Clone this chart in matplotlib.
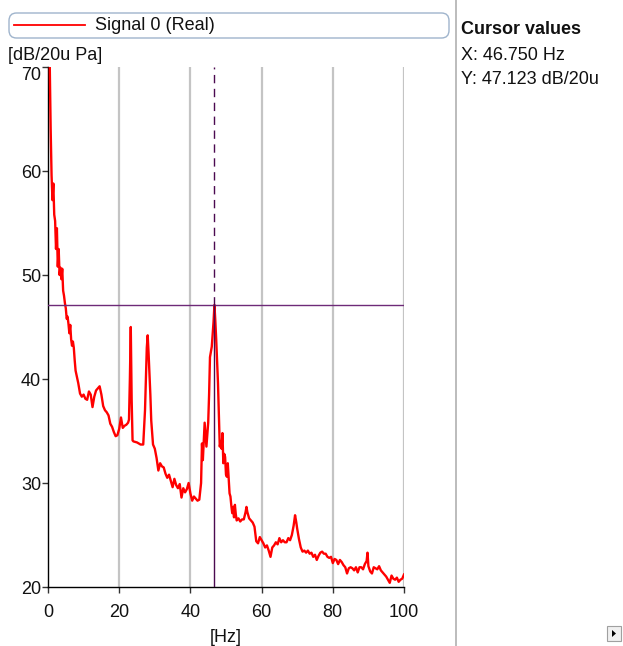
import numpy as np
import matplotlib
matplotlib.use('Agg')
import matplotlib.pyplot as plt
from matplotlib.patches import FancyBboxPatch, Rectangle, Polygon
from matplotlib.lines import Line2D

plt.rcParams['font.family'] = ['Liberation Sans', 'DejaVu Sans']

# spectrum (Hz, dB/20u Pa)
freq = [0.0, 0.25, 0.5, 0.75, 1.0, 1.25, 1.5, 1.75, 2.0, 2.25, 2.5, 2.75, 3.0, 3.25, 3.5, 3.75,
        4.0, 4.25, 4.5, 4.75, 5.0, 5.25, 5.5, 5.75, 6.0, 6.25, 6.5, 6.75, 7.0, 7.25, 7.5, 7.75,
        8.0, 8.5, 9.0, 9.5, 10.0, 10.5, 11.0, 11.5, 12.0, 12.5, 13.0, 13.5, 14.0, 14.5, 15.0,
        15.5, 16.0, 16.5, 17.0, 17.5, 18.0, 18.5, 19.0, 19.5, 20.0, 20.5, 21.0, 21.5, 22.0,
        22.5, 22.75, 23.0, 23.25, 23.5, 23.75, 24.0, 25.0, 26.0, 26.75, 27.25, 27.75, 28.0,
        28.25, 28.75, 29.0, 29.5, 30.0, 30.5, 31.0, 31.5, 32.0, 32.5, 33.0, 33.5, 34.0, 34.5,
        35.0, 35.5, 36.0, 36.5, 37.0, 37.5, 38.0, 38.5, 39.0, 39.5, 40.0, 40.5, 41.0, 41.5,
        42.0, 42.5, 43.0, 43.25, 43.5, 43.75, 44.0, 44.5, 45.0, 45.25, 45.5, 46.0, 46.5, 46.75,
        47.0, 47.25, 47.75, 48.0, 48.25, 48.5, 48.75, 49.0, 49.25, 49.5, 49.75, 50.0, 50.25,
        50.5, 50.75, 51.0, 51.25, 51.5, 51.75, 52.0, 52.25, 52.5, 52.75, 53.0, 53.5, 54.0,
        54.5, 55.0, 55.5, 55.75, 56.0, 56.5, 57.0, 57.5, 58.0, 58.5, 59.0, 59.5, 60.0, 60.5,
        61.0, 61.5, 62.0, 62.5, 63.0, 63.5, 64.0, 64.5, 65.0, 65.5, 66.0, 66.5, 67.0, 67.5,
        68.0, 68.5, 69.0, 69.4, 69.75, 70.0, 70.5, 71.0, 71.5, 72.0, 72.5, 73.0, 73.5, 74.0,
        74.5, 75.0, 75.5, 76.0, 76.5, 77.0, 77.5, 78.0, 78.5, 79.0, 79.5, 80.0, 80.5, 81.0,
        81.5, 82.0, 82.5, 83.0, 83.5, 84.0, 84.5, 85.0, 85.5, 86.0, 86.5, 87.0, 87.5, 88.0,
        88.5, 89.0, 89.5, 89.75, 90.0, 90.5, 91.0, 91.5, 92.0, 92.5, 93.0, 93.5, 94.0, 94.5,
        95.0, 95.5, 96.0, 96.5, 97.0, 97.5, 98.0, 98.5, 99.0, 99.5, 100.0]
level = [80.0, 75.0, 70.0, 64.0, 59.6, 57.2, 58.8, 55.8, 55.2, 52.5, 54.5, 50.8, 52.5, 50.0, 50.7, 49.6,
         50.6, 48.5, 48.0, 47.3, 46.8, 45.8, 46.0, 45.3, 44.4, 45.2, 43.8, 43.2, 43.6, 43.0, 41.8, 40.8,
         40.4, 39.6, 38.6, 38.3, 38.5, 38.1, 38.0, 38.8, 38.5, 37.3, 38.3, 38.9, 39.1, 39.3, 38.5,
         37.4, 37.0, 36.8, 36.5, 35.7, 35.4, 34.9, 34.5, 34.6, 35.2, 36.3, 35.3, 35.5, 35.6,
         35.8, 36.1, 40.0, 45.0, 38.0, 34.1, 34.0, 33.9, 33.7, 33.7, 37.0, 43.0, 44.2,
         42.5, 38.5, 36.0, 33.7, 33.3, 32.4, 31.2, 31.9, 31.6, 31.5, 30.9, 30.5, 30.8, 30.2,
         29.6, 30.4, 29.8, 29.5, 29.9, 28.6, 29.5, 29.1, 29.4, 30.0, 29.0, 28.3, 28.7, 28.5,
         28.3, 28.4, 30.0, 33.8, 32.2, 34.0, 35.8, 33.5, 35.8, 38.5, 42.1, 43.1, 45.5, 47.123,
         45.6, 43.8, 39.6, 36.5, 33.5, 34.0, 33.3, 34.8, 31.9, 32.8, 32.5, 30.8, 30.6,
         31.9, 30.5, 29.0, 28.7, 27.8, 27.1, 27.7, 26.7, 27.9, 27.0, 26.4, 26.6, 26.3,
         26.5, 26.5, 27.2, 27.7, 27.2, 26.6, 26.4, 26.2, 25.8, 24.4, 24.2, 24.8, 24.5, 24.2,
         23.8, 24.0, 23.5, 22.9, 23.8, 24.0, 24.3, 24.1, 24.7, 24.3, 24.5, 24.3, 24.3, 24.7,
         24.5, 25.0, 25.9, 26.9, 26.2, 25.6, 24.6, 23.8, 23.4, 23.5, 23.3, 23.5, 23.2, 23.3,
         22.9, 23.1, 22.6, 23.0, 23.3, 23.4, 23.2, 23.2, 22.9, 22.8, 22.9, 22.3, 22.7, 22.6,
         22.2, 22.6, 22.4, 22.1, 21.9, 21.3, 21.8, 21.9, 21.8, 21.6, 21.9, 21.4, 21.9, 21.9,
         21.7, 22.2, 22.5, 23.3, 22.0, 21.5, 21.3, 21.9, 21.8, 21.7, 22.0, 21.6, 21.4, 21.2,
         21.0, 20.7, 20.4, 21.1, 20.8, 20.7, 20.9, 20.5, 20.7, 20.8, 21.2]

cursor_x = 46.750
cursor_y = 47.123
x_ticks = [0, 20, 40, 60, 80, 100]
y_ticks = [20, 30, 40, 50, 60, 70]

W, H = 623, 646
fig = plt.figure(figsize=(W / 100, H / 100), dpi=100)
fig.patch.set_facecolor('white')

ax = fig.add_axes([48 / W, 1 - 587 / H, (404 - 48) / W, (587 - 67) / H])
ax.set_xlim(0, 100)
ax.set_ylim(20, 70)

for g in x_ticks[1:]:
    ax.axvline(g, color='#c4c4c4', lw=1.6, zorder=1)

ax.plot(freq, level, color='red', lw=1.7, zorder=3)

# cursor
ax.axhline(cursor_y, color='#6e2a78', lw=1.0, zorder=4)
ax.plot([cursor_x, cursor_x], [20, cursor_y], color='#4b0a50', lw=1.0, zorder=4)
ax.plot([cursor_x, cursor_x], [cursor_y, 70], color='#4b0a50', lw=1.0,
        ls=(0, (6, 4)), zorder=4)

ax.set_xticks(x_ticks)
ax.set_yticks(y_ticks)
ax.tick_params(direction='out', length=4, width=1, colors='#333333',
               labelcolor='#111111', labelsize=13)
ax.tick_params(axis='y', pad=1)
ax.tick_params(axis='x', pad=8)
# top label sits just under the axis end, as in the original
ax.get_yticklabels()[-1].set_verticalalignment('top')
for s in ['top', 'right']:
    ax.spines[s].set_visible(False)
for s in ['left', 'bottom']:
    ax.spines[s].set_color('black')
    ax.spines[s].set_linewidth(1.0)

ax.set_xlabel('[Hz]', fontsize=13, labelpad=6, color='#111111')
fig.text(8 / W, 1 - 55 / H, '[dB/20u Pa]', fontsize=13, va='center', ha='left',
         color='#111111')

# legend box on top
box = FancyBboxPatch((9 / W, 1 - 38 / H), (449 - 9) / W, 25 / H,
                     boxstyle='round,pad=0,rounding_size=0.012',
                     transform=fig.transFigure, facecolor='white',
                     edgecolor='#9fb4cc', lw=1.0)
fig.add_artist(box)
fig.add_artist(Line2D([14 / W, 85 / W], [1 - 25 / H, 1 - 25 / H],
                      transform=fig.transFigure, color='red', lw=1.3))
fig.text(95 / W, 1 - 25 / H, 'Signal 0 (Real)', fontsize=13, va='center',
         ha='left', color='#111111')

# side panel
fig.add_artist(Line2D([456 / W, 456 / W], [0, 1], transform=fig.transFigure,
                      color='#b0b0b0', lw=1.2))
fig.text(461 / W, 1 - 29 / H, 'Cursor values', fontsize=13, fontweight='bold',
         va='center', ha='left', color='#111111')
fig.text(461 / W, 1 - 55 / H, 'X: %.3f Hz' % cursor_x, fontsize=13,
         va='center', ha='left', color='#111111')
fig.text(461 / W, 1 - 80 / H, 'Y: %.3f dB/20u' % cursor_y, fontsize=13,
         va='center', ha='left', color='#111111')

# little scroll button bottom right
fig.add_artist(Rectangle((607 / W, 1 - 641 / H), 14 / W, 15 / H,
                         transform=fig.transFigure, facecolor='#f0f0f0',
                         edgecolor='#a0a0a0', lw=0.8))
fig.add_artist(Polygon([[612 / W, 1 - 630 / H], [612 / W, 1 - 637 / H],
                        [616 / W, 1 - 633.5 / H]], closed=True,
                       transform=fig.transFigure, facecolor='black',
                       edgecolor='none'))

fig.savefig('out.png', dpi=100)
